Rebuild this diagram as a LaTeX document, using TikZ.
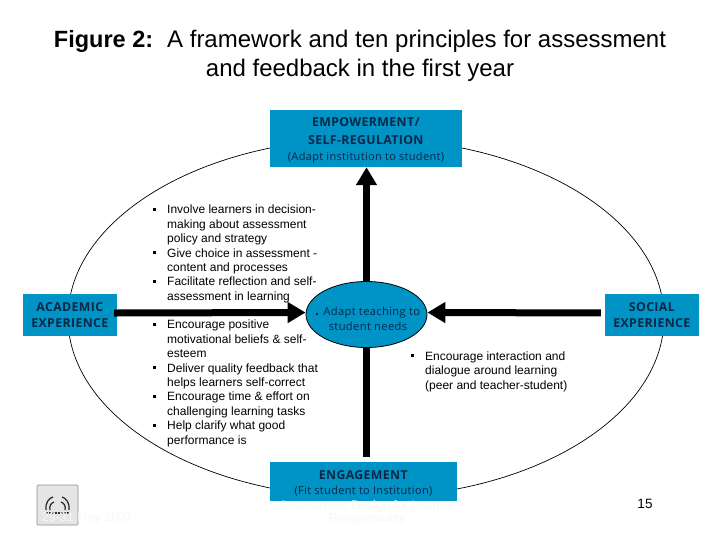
\documentclass[tikz,border=0pt]{standalone}
\usepackage{fontspec}
\setmainfont{Liberation Sans}
\newfontfamily\boxfont[LetterSpace=3]{Open Sans}
\usetikzlibrary{arrows.meta,shapes.geometric}
\definecolor{boxblue}{HTML}{0093C6}
\definecolor{boxink}{HTML}{0A2748}
\def\listbullet{\makebox[14pt][l]{\raisebox{3pt}{\rule{3pt}{3pt}}}}
\def\listgap{\hspace*{14pt}}
\tikzset{
	corner/.style={fill=boxblue, inner sep=0pt, align=center, text=boxink, font=\boxfont\fontsize{12.3}{15.5}\selectfont},
	bullets/.style={anchor=north west, inner sep=0pt, align=left, font=\fontsize{12}{14.4}\selectfont},
	faint/.style={color=black!3, font=\fontsize{12.5}{11}\selectfont},
	thick arrow/.style={line width=7pt, -{Triangle[length=18pt,width=20pt]}},
}

\begin{document}
\begin{tikzpicture}[x=1pt, y=-1pt]
		%%%%% START %%%%%
		\useasboundingbox (0, 0) rectangle (720, 540);
		
		\draw[line width=0.7pt] (366, 318) ellipse (298 and 179.5);
		
		\node[font=\fontsize{24}{29}\selectfont, align=center] (title) at (360, 56) {{\fontsize{23.5}{29}\selectfont\textbf{Figure 2:}}\hspace{14pt}A framework and ten principles for assessment\\and feedback in the first year};
		
		\node[corner, minimum width=192pt, minimum height=57pt] (empower) at (366, 138.5) {};
		\node[corner, fill=none] (empowerlabel) at (366, 140.5) {\textbf{EMPOWERMENT/}\\[2.5pt]\textbf{SELF-REGULATION}\\{\fontsize{11}{15}\selectfont (Adapt institution to student)}};
		\node[corner, minimum width=94pt, minimum height=42pt] (academic) at (70, 315) {\textbf{ACADEMIC}\\\textbf{EXPERIENCE}};
		\node[corner, minimum width=94pt, minimum height=42pt] (social) at (652, 315) {\textbf{SOCIAL}\\\textbf{EXPERIENCE}};
		\node[corner, minimum width=187pt, minimum height=39pt] (engage) at (363.5, 481.5) {};
		\node[corner, fill=none] (engagelabel) at (363.5, 483.5) {\textbf{ENGAGEMENT}\\{\fontsize{11}{15}\selectfont (Fit student to Institution)}};
		
		\node[shape=ellipse, fill=boxblue, draw=black, line width=0.8pt, inner sep=0pt, minimum width=121pt, minimum height=66pt] (adapt) at (366.5, 314.5) {};
		\node[corner, fill=none, font=\boxfont\fontsize{11.2}{15}\selectfont] (adaptlabel) at (368, 318.5) {\rule{2.4pt}{2.4pt}\, Adapt teaching to\\student needs};
		
		\draw[thick arrow, shorten <=-3pt] ([yshift=2pt]academic.east) -- ([yshift=2pt]adapt.west);
		\draw[thick arrow, shorten <=4pt] ([yshift=2pt]social.west) -- ([yshift=2pt]adapt.east);
		\draw[thick arrow] (adapt.north) -- (adapt.north |- empower.south);
		\draw[line width=7pt, shorten >=5pt] (adapt.south) -- (adapt.south |- engage.north);
		
		\node[bullets] (listtop) at (153, 205) {\listbullet Involve learners in decision-\\\listgap making about assessment\\\listgap policy and strategy\\\listbullet Give choice in assessment -\\\listgap content and processes\\\listbullet Facilitate reflection and self-\\\listgap assessment in learning};
		\node[bullets] (listlow) at (153, 320) {\listbullet Encourage positive\\\listgap motivational beliefs \& self-\\\listgap esteem\\\listbullet Deliver quality feedback that\\\listgap helps learners self-correct\\\listbullet Encourage time \& effort on\\\listgap challenging learning tasks\\\listbullet Help clarify what good\\\listgap performance is};
		\node[bullets] (listright) at (411, 351.5) {\listbullet Encourage interaction and\\\listgap dialogue around learning\\\listgap (peer and teacher-student)};
		
		\node[font=\fontsize{13.5}{14}\selectfont] (pagenum) at (645, 504) {15};
		
		% logo
		\draw[fill=black!10, draw=black!45, line width=0.7pt, rounded corners=1pt] (37, 485) rectangle (78, 525);
		\draw[line width=1.2pt, color=black!85] (46, 510) .. controls (45, 503) and (49, 498) .. (53, 497);
		\draw[line width=1.2pt, color=black!85] (50, 510) .. controls (49, 506) and (51, 503) .. (54, 502);
		\draw[line width=1.2pt, color=black!85] (69, 510) .. controls (70, 503) and (66, 498) .. (62, 497);
		\draw[line width=1.2pt, color=black!85] (65, 510) .. controls (66, 506) and (64, 503) .. (61, 502);
		\draw[line width=1.5pt, color=black!80, dash pattern=on 2pt off 1pt] (46, 513) -- (70, 513);
		
		\node[faint] (dateline) at (87, 518) {29-31 May 2007};
		\node[faint, align=center] (footline) at (367, 512.5) {Assessment Design for Learner\\Responsibility};
		
		%%%%% END %%%%%
	\end{tikzpicture}
\end{document}
